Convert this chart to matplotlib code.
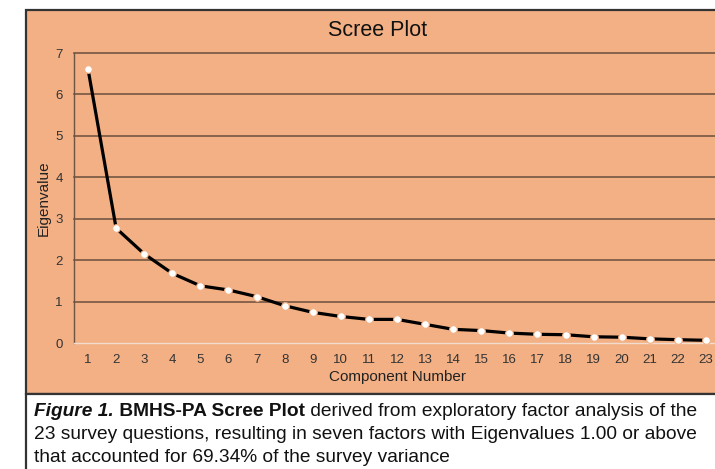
import matplotlib
matplotlib.use("Agg")
import matplotlib.pyplot as plt
from matplotlib.patches import Rectangle

plt.rcParams['font.family'] = ['Liberation Sans', 'DejaVu Sans']

components = list(range(1, 24))
eigenvalues = [6.61, 2.77, 2.15, 1.68, 1.38, 1.28, 1.12, 0.90, 0.74, 0.64,
               0.57, 0.57, 0.45, 0.33, 0.30, 0.24, 0.21, 0.20, 0.15, 0.14,
               0.10, 0.08, 0.065]
y_ticks = [0, 1, 2, 3, 4, 5, 6, 7]
title = "Scree Plot"
x_label = "Component Number"
y_label = "Eigenvalue"
cap_line1 = [("Figure 1.", "bold", "italic"),
             (" BMHS-PA Scree Plot", "bold", "normal"),
             (" derived from exploratory factor analysis of the", "normal", "normal")]
cap_line2 = "23 survey questions, resulting in seven factors with Eigenvalues 1.00 or above"
cap_line3 = "that accounted for 69.34% of the survey variance"

W, H = 715, 469
fig = plt.figure(figsize=(W / 100, H / 100), dpi=100)
fig.patch.set_facecolor('white')

orange = '#F3B084'
def fx(px): return px / W
def fy(py): return 1 - py / H

# chart background box
fig.patches.append(Rectangle((fx(26), fy(394)), fx(760) - fx(26), fy(10) - fy(394),
                             transform=fig.transFigure, facecolor=orange,
                             edgecolor='#333333', linewidth=1.6, zorder=-2))
# caption box
fig.patches.append(Rectangle((fx(26), fy(490)), fx(760) - fx(26), fy(394) - fy(490),
                             transform=fig.transFigure, facecolor='white',
                             edgecolor='#333333', linewidth=1.6, zorder=-2))

ax = fig.add_axes([fx(74), fy(343), fx(720) - fx(74), fy(53) - fy(343)])
ax.set_zorder(2)
ax.patch.set_alpha(0)

ax.plot(components, eigenvalues, color='black', linewidth=2.3, zorder=3,
        marker='o', markersize=5.5, markerfacecolor='white',
        markeredgecolor=orange, markeredgewidth=0.8, clip_on=False)

ax.set_xlim(0.5, 23.5)
ax.set_ylim(0, 7)
ax.set_yticks(y_ticks)
ax.set_xticks(components)
ax.tick_params(axis='both', length=0, labelsize=9.5, labelcolor='#333333')
ax.tick_params(axis='y', pad=8)
ax.tick_params(axis='x', pad=8)
for v in y_ticks[1:]:
    ax.axhline(v, color='#765643', linewidth=1.2, zorder=1, clip_on=False)
for s in ['top', 'right']:
    ax.spines[s].set_visible(False)
ax.spines['left'].set_color('#6e5443')
ax.spines['left'].set_linewidth(1.0)
ax.spines['bottom'].set_color('#f2dccd')
ax.spines['bottom'].set_linewidth(1.0)

ax.set_xlabel(x_label, fontsize=11, color='#222222')
ax.set_ylabel(y_label, fontsize=11, color='#222222')
ax.xaxis.set_label_coords(0.5, -(377 - 343) / 290, transform=ax.transAxes)
ax.yaxis.set_label_coords((44 - 74) / 646, 0.5, transform=ax.transAxes)
ax.xaxis.label.set_va('center')
ax.yaxis.label.set_va('center')

fig.text(fx(378), fy(30), title, fontsize=15.5, ha='center', va='center', color='#111111')

# caption
cap_fs = 13.8
renderer = fig.canvas.get_renderer()
x = fx(34)
for txt, wt, st in cap_line1:
    t = fig.text(x, fy(411), txt, fontsize=cap_fs, fontweight=wt, fontstyle=st,
                 ha='left', va='center', color='#111111')
    bb = t.get_window_extent(renderer)
    x = bb.x1 / W
fig.text(fx(34), fy(434), cap_line2, fontsize=cap_fs, ha='left', va='center', color='#111111')
fig.text(fx(34), fy(457), cap_line3, fontsize=cap_fs, ha='left', va='center', color='#111111')

fig.savefig('out.png', dpi=100, facecolor='white')
